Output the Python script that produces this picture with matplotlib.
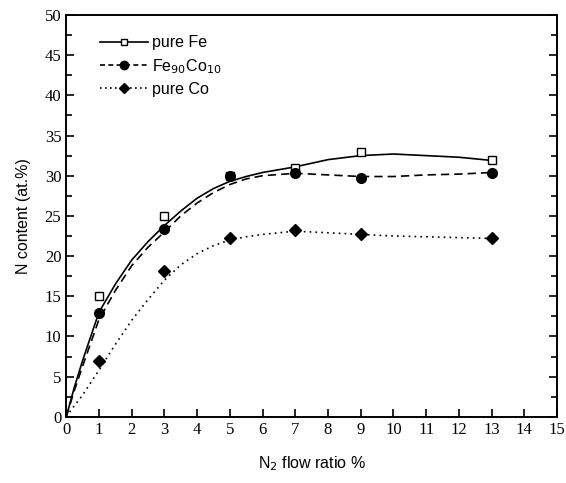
import numpy as np
import matplotlib
matplotlib.use("Agg")
from matplotlib import pyplot as plt
from matplotlib.ticker import MultipleLocator

# measured points
x_pts = [1, 3, 5, 7, 9, 13]
fe_pts = [15.0, 25.0, 30.0, 31.0, 32.9, 31.9]
feco_pts = [12.9, 23.4, 30.0, 30.4, 29.7, 30.4]
co_pts = [6.9, 18.2, 22.3, 23.3, 22.7, 22.3]

# fitted curves
x_fit = [0, 0.25, 0.5, 1, 1.5, 2, 2.5, 3, 3.5, 4, 4.5, 5, 5.5, 6, 7, 8, 9, 10, 11, 12, 13]
fe_fit = [0, 3.7, 7.0, 13.0, 16.5, 19.5, 21.8, 23.8, 25.6, 27.2, 28.4, 29.3, 29.9, 30.4,
          31.1, 32.0, 32.5, 32.7, 32.5, 32.3, 31.9]
feco_fit = [0, 3.3, 6.3, 12.1, 15.7, 18.8, 21.1, 23.0, 25.0, 26.6, 27.9, 28.9, 29.6, 30.0,
            30.3, 30.1, 29.9, 29.9, 30.1, 30.2, 30.4]
co_fit = [0, 1.4, 2.7, 5.8, 9.0, 12.0, 14.6, 17.0, 18.9, 20.3, 21.3, 22.0, 22.4, 22.7,
          23.1, 22.9, 22.7, 22.5, 22.4, 22.3, 22.2]

plt.rcParams['font.family'] = ['Liberation Sans', 'DejaVu Sans']

fig = plt.figure(figsize=(5.66, 4.83), dpi=100)
ax = fig.add_axes([0.117, 0.137, 0.867, 0.832])

lw = 1.2
ax.plot(x_fit, fe_fit, color='k', lw=lw, ls='-')
ax.plot(x_fit, feco_fit, color='k', lw=lw, ls=(0, (5, 3)))
ax.plot(x_fit, co_fit, color='k', lw=lw, ls=(0, (1, 2.5)))
ax.plot(x_pts, fe_pts, ls='none', marker='s', ms=6, mfc='white', mec='k', mew=1.0)
ax.plot(x_pts, feco_pts, ls='none', marker='o', ms=7, color='k')
ax.plot(x_pts, co_pts, ls='none', marker='D', ms=6, color='k')

# legend handles: line + marker
h1, = ax.plot([], [], color='k', lw=lw, ls='-', marker='s', ms=5, mfc='white', mec='k')
h2, = ax.plot([], [], color='k', lw=lw, ls=(0, (3, 2)), marker='o', ms=6)
h3, = ax.plot([], [], color='k', lw=lw, ls=(0, (1, 2)), marker='D', ms=5)
ax.legend([h1, h2, h3], ['pure Fe', 'Fe$_{90}$Co$_{10}$', 'pure Co'],
          loc='upper left', bbox_to_anchor=(0.055, 0.965), frameon=False,
          fontsize=11.5, handlelength=3.0, handletextpad=0.3, labelspacing=0.4,
          borderaxespad=0.0)

ax.set_xlim(0, 15)
ax.set_ylim(0, 50)
ax.xaxis.set_major_locator(MultipleLocator(1))
ax.yaxis.set_major_locator(MultipleLocator(5))
ax.yaxis.set_minor_locator(MultipleLocator(2.5))
ax.tick_params(which='both', direction='in', right=True, top=False, width=1.2)
ax.tick_params(which='major', length=6)
ax.tick_params(which='minor', length=4)
for s in ax.spines.values():
    s.set_linewidth(1.4)

for lab in ax.get_xticklabels() + ax.get_yticklabels():
    lab.set_family('Liberation Serif')
    lab.set_fontsize(12)

ax.set_xlabel('N$_2$ flow ratio %', fontsize=11.5, labelpad=12)
ax.set_ylabel('N content (at.%)', fontsize=11.5, labelpad=10)

fig.savefig('out.png', dpi=100)
